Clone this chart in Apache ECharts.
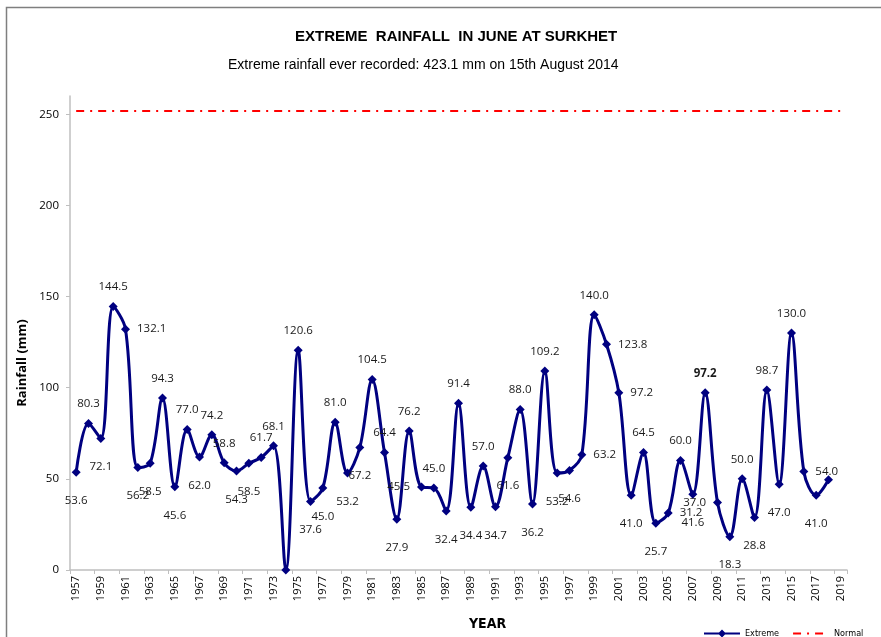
<!DOCTYPE html>
<html>
<head>
<meta charset="utf-8">
<script src="https://cdn.jsdelivr.net/npm/echarts@6/dist/echarts.min.js"></script>
<style>
  html, body { margin: 0; padding: 0; background: #fff; }
  #chart { width: 881px; height: 637px; }
</style>
</head>
<body>
<div id="chart"></div>
<script>
const years = []
for (let y = 1957; y <= 2019; y++) years.push(String(y))

// extreme rainfall per year (mm), 1957..2018
const extremeValues = [
  53.6, 80.3, 72.1, 144.5, 132.1, 56.2, 58.5, 94.3, 45.6, 77.0,
  62.0, 74.2, 58.8, 54.3, 58.5, 61.7, 68.1, 0, 120.6, 37.6,
  45.0, 81.0, 53.2, 67.2, 104.5, 64.4, 27.9, 76.2, 45.5, 45.0,
  32.4, 91.4, 34.4, 57.0, 34.7, 61.6, 88.0, 36.2, 109.2, 53.2,
  54.6, 63.2, 140.0, 123.8, 97.2, 41.0, 64.5, 25.7, 31.2, 60.0,
  41.6, 97.2, 37.0, 18.3, 50.0, 28.8, 98.7, 47.0, 130.0, 54.0,
  41.0, 49.5
]

// where each value label sits
const labelSide = [
  'b', 't', 'b', 't', 'r', 'b', 'b', 't', 'b', 't',
  'b', 't', 't', 'b', 'b', 't', 't', '-', 't', 'b',
  'b', 't', 'b', 'b', 't', 't', 'b', 't', 'l', 't',
  'b', 't', 'b', 't', 'b', 'b', 't', 'b', 't', 'b',
  'b', 'r', 't', 'r', 'r', 'b', 't', 'b', 'r', 't',
  'b', 't', 'l', 'b', 't', 'b', 't', 'b', 't', 'r',
  'b', '-'
]
const boldIndex = 51

const normalValue = 252

const LINE_COLOR = '#000080'
const NORMAL_COLOR = '#ff0000'
const LABEL_FONT = 'Open Sans, Noto Sans, sans-serif'
const NARROW_FONT = 'Liberation Sans Narrow, DejaVu Sans Condensed, sans-serif'

function buildData() {
  const posMap = { t: 'top', b: 'bottom', r: 'right', l: 'left' }
  return extremeValues.map((v, i) => {
    const side = labelSide[i]
    if (side === '-') return { value: v, label: { show: false } }
    const label = {
      show: true,
      position: posMap[side],
      distance: side === 'b' ? 18 : (side === 't' ? 9 : 7),
      formatter: v.toFixed(1)
    }
    if (i === boldIndex) label.fontWeight = 'bold'
    return { value: v, label }
  })
}

const chart = echarts.init(document.getElementById('chart'))

chart.setOption({
  animation: false,
  backgroundColor: '#fff',
  graphic: [{
    type: 'rect',
    shape: { x: 6.5, y: 7.5, width: 900, height: 700 },
    style: { fill: 'none', stroke: '#7f7f7f', lineWidth: 1.5 },
    silent: true
  }],
  title: [
    {
      text: 'EXTREME  RAINFALL  IN JUNE AT SURKHET',
      left: 290,
      top: 24,
      textStyle: { fontFamily: 'Liberation Sans, Arial, sans-serif', fontSize: 15, fontWeight: 'bold', color: '#000' }
    },
    {
      text: 'Extreme rainfall ever recorded: 423.1 mm on 15th August 2014',
      left: 223,
      top: 53,
      textStyle: { fontFamily: 'Liberation Sans, Arial, sans-serif', fontSize: 14, fontWeight: 'normal', color: '#000' }
    }
  ],
  legend: {
    orient: 'horizontal',
    left: 699,
    top: 624,
    itemWidth: 36,
    itemHeight: 8,
    itemGap: 14,
    selectedMode: false,
    textStyle: { fontFamily: NARROW_FONT, fontSize: 9, color: '#000' },
    data: [
      {
        name: 'Extreme',
        icon: 'path://M0,3 L15,3 L18,0 L21,3 L36,3 L36,5 L21,5 L18,8 L15,5 L0,5 Z',
        itemStyle: { color: LINE_COLOR }
      },
      {
        name: 'Normal',
        icon: 'path://M0,3 L8,3 L8,5 L0,5 Z M14,3 L16,3 L16,5 L14,5 Z M22,3 L30,3 L30,5 L22,5 Z M36,4 L36,4.01 Z',
        itemStyle: { color: NORMAL_COLOR }
      }
    ]
  },
  grid: {
    left: 70,
    right: 34,
    top: 96,
    bottom: 67
  },
  xAxis: {
    type: 'category',
    data: years,
    boundaryGap: true,
    name: 'YEAR',
    nameLocation: 'middle',
    nameGap: 47,
    nameTextStyle: {
      fontFamily: NARROW_FONT,
      fontSize: 14,
      fontWeight: 'bold',
      color: '#000',
      padding: [0, 0, 0, 58]
    },
    axisLine: { lineStyle: { color: '#bfbfbf', width: 1.5 } },
    axisTick: { show: true, length: 4, lineStyle: { color: '#bfbfbf' } },
    axisLabel: {
      interval: 1,
      rotate: 90,
      margin: 6,
      fontSize: 11,
      fontFamily: LABEL_FONT,
      color: '#000'
    },
    splitLine: { show: false }
  },
  yAxis: {
    type: 'value',
    min: 0,
    max: 260,
    interval: 50,
    name: 'Rainfall (mm)',
    nameLocation: 'middle',
    nameGap: 40,
    nameTextStyle: {
      fontFamily: 'Open Sans, sans-serif',
      fontSize: 13,
      fontWeight: 'bold',
      color: '#000',
      padding: [0, 60, 0, 0]
    },
    axisLine: { show: true, lineStyle: { color: '#bfbfbf', width: 1.5 } },
    axisTick: { show: true, length: 4, lineStyle: { color: '#bfbfbf' } },
    axisLabel: { fontSize: 11.5, fontFamily: LABEL_FONT, color: '#000', margin: 11, showMaxLabel: false },
    splitLine: { show: false }
  },
  series: [
    {
      name: 'Extreme',
      type: 'line',
      data: buildData(),
      smooth: 0.35,
      showAllSymbol: true,
      symbol: 'diamond',
      symbolSize: 9,
      lineStyle: { color: LINE_COLOR, width: 3 },
      itemStyle: { color: LINE_COLOR },
      label: {
        fontSize: 11.5,
        fontFamily: LABEL_FONT,
        color: '#1a1a1a'
      },
      labelLayout: { hideOverlap: false },
      z: 3
    },
    {
      name: 'Normal',
      type: 'line',
      data: [],
      symbol: 'none',
      lineStyle: { color: NORMAL_COLOR, width: 2, type: [8, 6, 2, 6] },
      itemStyle: { color: NORMAL_COLOR },
      markLine: {
        silent: true,
        symbol: 'none',
        label: { show: false },
        lineStyle: { color: NORMAL_COLOR, width: 2, type: [8, 6, 2, 6] },
        data: [[{ coord: ['1957', normalValue] }, { coord: ['2019', normalValue] }]]
      }
    }
  ]
})
</script>
</body>
</html>
